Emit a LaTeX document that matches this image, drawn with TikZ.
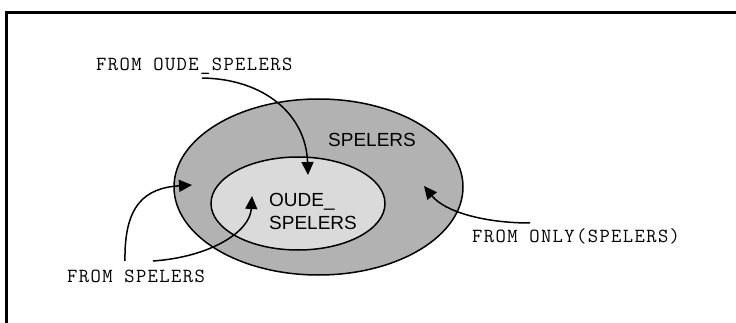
\documentclass[tikz,border=0pt]{standalone}
\usepackage{fontspec}
\setmainfont{Liberation Sans}
\newfontfamily\codefont[LetterSpace=7]{Latin Modern Mono}
\usetikzlibrary{arrows.meta,shapes.geometric}
\definecolor{outergray}{HTML}{B2B2B2}
\definecolor{innergray}{HTML}{DADADA}

\begin{document}
\begin{tikzpicture}[x=1pt,y=-1pt,
  setbox/.style={draw=black,line width=1.5pt,ellipse,inner sep=0pt},
  code/.style={font=\codefont\fontsize{20}{22}\selectfont,inner sep=0pt,anchor=base west},
  lbl/.style={font=\fontsize{19}{22.6}\selectfont,inner sep=0pt,anchor=base west},
  flow/.style={line width=1.5pt,-{Triangle[length=13pt,width=12pt]}}]
\useasboundingbox (0,0) rectangle (736,323);
\fill[white] (0,0) rectangle (736,323);

% frame lines (left and top only)
\draw[line width=3pt] (6.5,323) -- (6.5,12.5) -- (736,12.5);

% nested sets
\node[setbox,fill=outergray,minimum width=289pt,minimum height=176pt] (spelers) at (318.5,187) {};
\node[setbox,fill=innergray,minimum width=174pt,minimum height=93pt] (oude) at (298,203.5) {};

\node[lbl] (spelerslbl) at (328,147) {SPELERS};
\node[lbl] (oudeA) at (269,206.7) {OUDE\_};
\node[lbl] (oudeB) at (269,229.3) {SPELERS};

% query texts
\node[code] (fromoude) at (96,71) {FROM OUDE\_SPELERS};
\node[code] (fromspelers) at (67,282) {FROM SPELERS};
\node[code] (fromonly) at (472,243) {FROM ONLY(SPELERS)};

% connector ends
\coordinate (s1) at (202,78);
\coordinate (t1) at (308,175);
\coordinate (s2) at (125,261);
\coordinate (t2) at (192,185);
\coordinate (s3) at (153,261);
\coordinate (t3) at (252,196);
\coordinate (s4) at (530,223);
\coordinate (t4) at (424,186);

\draw[flow] (s1) .. controls (265,79) and (306,115) .. (t1);
\draw[flow] (s2) .. controls (124,205) and (145,188) .. (t2);
\draw[flow] (s3) .. controls (210,257) and (250,232) .. (t3);
\draw[flow] (s4) .. controls (485,223) and (445,212) .. (t4);
\end{tikzpicture}
\end{document}
